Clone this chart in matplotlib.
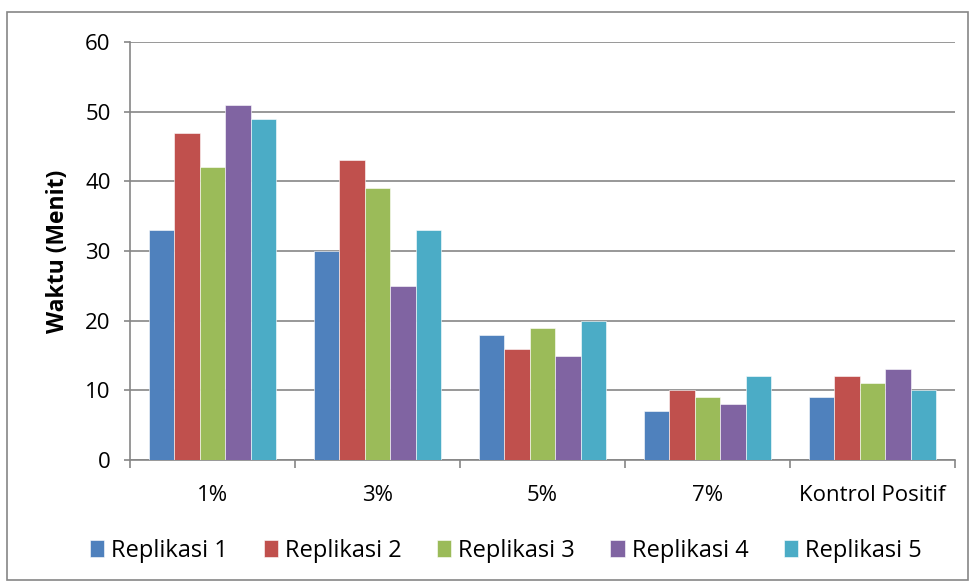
import numpy as np
import matplotlib.pyplot as plt
from matplotlib.patches import Rectangle

categories = ["1%", "3%", "5%", "7%", "Kontrol Positif"]
series_names = ["Replikasi 1", "Replikasi 2", "Replikasi 3", "Replikasi 4", "Replikasi 5"]
replikasi_1 = [33, 30, 18, 7, 9]
replikasi_2 = [47, 43, 16, 10, 12]
replikasi_3 = [42, 39, 19, 9, 11]
replikasi_4 = [51, 25, 15, 8, 13]
replikasi_5 = [49, 33, 20, 12, 10]
colors = ["#4F81BD", "#C0504D", "#9BBB59", "#8064A2", "#4BACC6"]

plt.rcParams['font.family'] = ['Open Sans', 'DejaVu Sans']

fig = plt.figure(figsize=(9.69, 5.83), dpi=100)
ax = fig.add_axes([130/969, 1 - 460/583, 825/969, 418/583])

fig.patches.append(Rectangle((7/969, 3/583), 961/969, 568/583, transform=fig.transFigure,
                             fill=False, edgecolor="#868686", linewidth=1.2))

all_series = [replikasi_1, replikasi_2, replikasi_3, replikasi_4, replikasi_5]
x = np.arange(len(categories))
width = 1 / 6.5
for i, vals in enumerate(all_series):
    ax.bar(x + (i - 2) * width, vals, width, color=colors[i], label=series_names[i],
           edgecolor="white", linewidth=0.4, zorder=3)

ax.set_xlim(-0.5, len(categories) - 0.5)
ax.set_ylim(0, 60)
ax.set_yticks(range(0, 61, 10))
ax.yaxis.grid(True, color="#868686", linewidth=1.2, zorder=0)
ax.set_xticks(x)
ax.set_xticklabels(categories, fontsize=16)
ax.set_xticks(np.arange(-0.5, len(categories)), minor=True)
ax.tick_params(axis="x", which="major", length=0, pad=18)
ax.tick_params(axis="x", which="minor", length=6, color="#868686", width=1.2)
ax.tick_params(axis="y", labelsize=16, length=4, color="#868686", width=1.2, pad=10)

for s in ["top", "right"]:
    ax.spines[s].set_visible(False)
for s in ["left", "bottom"]:
    ax.spines[s].set_color("#868686")
    ax.spines[s].set_linewidth(1.2)

ax.set_ylabel("Waktu (Menit)", fontsize=16.5, fontweight="bold", labelpad=11)

fig.legend(loc="center", bbox_to_anchor=(506/969, 1 - 551/583), ncol=5, frameon=False,
           fontsize=17, handlelength=0.6, handleheight=0.75, handletextpad=0.3, columnspacing=1.5)

fig.savefig("out.png", dpi=100)
